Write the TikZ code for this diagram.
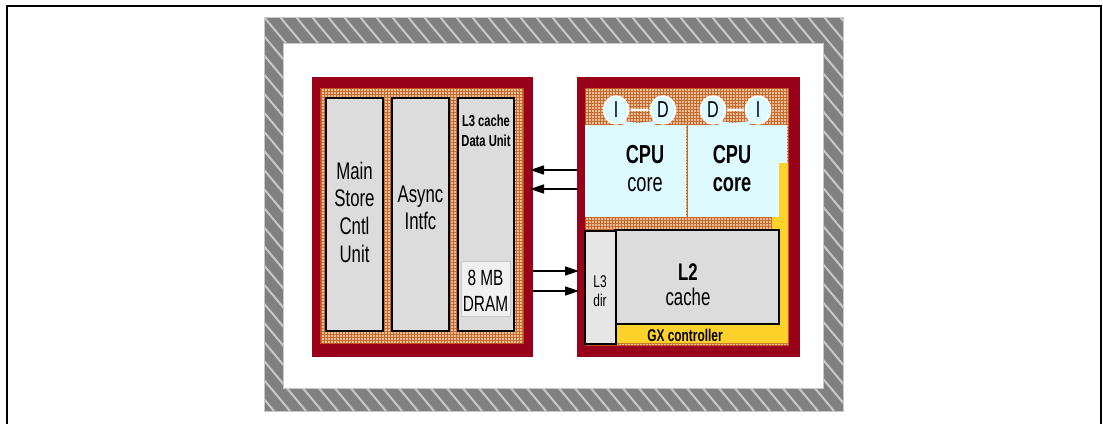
\documentclass[tikz,border=0pt]{standalone}
\usepackage{fontspec}
\setmainfont{Liberation Sans}[FakeStretch=0.7]
\usetikzlibrary{patterns,arrows.meta,shapes.geometric}
\definecolor{chipred}{HTML}{990019}
\definecolor{texor}{HTML}{C46A30}
\definecolor{texbase}{HTML}{EBC096}
\definecolor{texedge}{HTML}{C0501E}
\definecolor{cyanl}{HTML}{DCFAFF}
\definecolor{boxgray}{HTML}{DCDCDC}
\definecolor{dirgray}{HTML}{E6E6E6}
\definecolor{dramgray}{HTML}{F0F0F0}
\definecolor{gxyel}{HTML}{FCD22A}
\definecolor{hatchgray}{HTML}{808080}
\definecolor{hatchlight}{HTML}{C8C8C8}
\begin{document}
\begin{tikzpicture}[x=1pt,y=-1pt,
  rbox/.style={inner sep=0pt, outer sep=0pt, anchor=north west},
  chip/.style={rbox, fill=chipred},
  texture/.style={rbox, preaction={fill=texbase}, pattern=grid, pattern color=texor, draw=texedge, line width=0.8pt},
  colbox/.style={rbox, fill=boxgray, draw=black, line width=1.2pt},
  corebox/.style={rbox, fill=cyanl},
  idcirc/.style={ellipse, fill=cyanl, draw=white, line width=1.5pt, minimum width=25pt, minimum height=28pt, inner sep=0pt, font=\fontsize{23}{24}\selectfont},
  bigtxt/.style={align=center, font=\fontsize{24}{27.7}\selectfont, inner sep=0pt},
  smallbold/.style={align=center, font=\fontsize{16}{20}\selectfont\bfseries, inner sep=0pt},
  arr/.style={line width=1.5pt, -{Triangle[length=14pt,width=9pt]}}]
\useasboundingbox (0,0) rectangle (1103,424);
% page frame
\draw[line width=1.5pt] (7,424) -- (7,6) -- (1101,6) -- (1101,424);
% hatched frame
\fill[hatchgray] (264,17) rectangle (843,411);
\begin{scope}
  \clip (264,17) rectangle (843,411);
  \foreach \i in {-22,...,37} \draw[hatchlight, line width=2pt] (264+16*\i,17) -- ++(330,394);
\end{scope}
\draw[hatchlight, line width=1pt] (264,17) rectangle (843,411);
\fill[white] (283,43) rectangle (823,388);
\draw[hatchlight, line width=1pt] (283,43) rectangle (823,388);
% left chip
\node[chip, minimum width=221pt, minimum height=280pt] (lchip) at (312,77) {};
\node[texture, minimum width=203pt, minimum height=255pt] (ltex) at (320,88) {};
\node[colbox, minimum width=57pt, minimum height=233pt] (msc) at (326,98) {};
\node[colbox, minimum width=57pt, minimum height=233pt] (async) at (392,98) {};
\node[colbox, minimum width=56pt, minimum height=233pt] (l3c) at (458,98) {};
\node[rbox, fill=dramgray, draw=hatchlight, line width=1pt, minimum width=49pt, minimum height=55pt] (dram) at (461,261) {};
\node[bigtxt] (msctxt) at (354.5,212) {Main\\Store\\Cntl\\Unit};
\node[bigtxt] (asynctxt) at (420.5,208) {Async\\Intfc};
\node[smallbold] (l3ctxt) at (486,131) {L3 cache\\Data Unit};
\node[align=center, font=\fontsize{22}{26}\selectfont, inner sep=0pt] (dramtxt) at (485.5,291) {8 MB\\DRAM};
% right chip
\node[chip, minimum width=223pt, minimum height=280pt] (rchip) at (577,77) {};
\node[texture, minimum width=203pt, minimum height=257pt] (rtex) at (585,88) {};
\node[corebox, minimum width=101pt, minimum height=92pt] (core1) at (585,125) {};
\node[corebox, minimum width=99pt, minimum height=92pt] (core2) at (688,125) {};
\fill[gxyel] (779,163) -- (788,163) -- (788,343) -- (615,343) -- (615,230) -- (772,230) -- (772,217) -- (779,217) -- cycle;
\node[colbox, line width=1.5pt, minimum width=164pt, minimum height=94pt] (l2) at (615,230) {};
\node[rbox, fill=dirgray, draw=black, line width=1.2pt, minimum width=31pt, minimum height=113pt] (l3dir) at (585,231) {};
% I/D caches
\node[idcirc] (i1) at (616,110) {I};
\node[idcirc] (d1) at (663,110) {D};
\node[idcirc] (d2) at (713,110) {D};
\node[idcirc] (i2) at (758,110) {I};
\fill[cyanl] (608,120) -- (628,126) -- (649,126) -- (671,120) -- (655,121) -- (638,123) -- (624,121) -- cycle;
\fill[cyanl] (705,120) -- (723,126) -- (744,126) -- (766,120) -- (750,121) -- (733,123) -- (720,121) -- cycle;
\draw[white, line width=1.5pt, {Stealth[length=4pt]}-{Stealth[length=4pt]}] (i1) -- (d1);
\draw[white, line width=1.5pt, {Stealth[length=4pt]}-{Stealth[length=4pt]}] (d2) -- (i2);
% texts right chip
\node[align=center, inner sep=0pt, font=\fontsize{26}{28}\selectfont] (c1txt) at (645,169) {\textbf{CPU}\\core};
\node[align=center, inner sep=0pt, font=\fontsize{26}{28}\selectfont\bfseries] (c2txt) at (732,169) {CPU\\core};
\node[align=center, inner sep=0pt, font=\fontsize{24}{25}\selectfont] (l2txt) at (688,285) {\textbf{L2}\\cache};
\node[align=center, font=\fontsize{17}{19}\selectfont, inner sep=0pt] (l3dtxt) at (600,291) {L3\\dir};
\node[align=center, font=\fontsize{17}{20}\selectfont\bfseries, inner sep=0pt] (gxtxt) at (685,335) {GX controller};
% connectors
\draw[arr, shorten >=-3pt] (rchip.west |- 0,170) -- (lchip.east |- 0,170);
\draw[arr, shorten >=-3pt] (rchip.west |- 0,189) -- (lchip.east |- 0,189);
\draw[arr, shorten >=-2pt] (lchip.east |- 0,271) -- (rchip.west |- 0,271);
\draw[arr, shorten >=-2pt] (lchip.east |- 0,291) -- (rchip.west |- 0,291);
\end{tikzpicture}
\end{document}
